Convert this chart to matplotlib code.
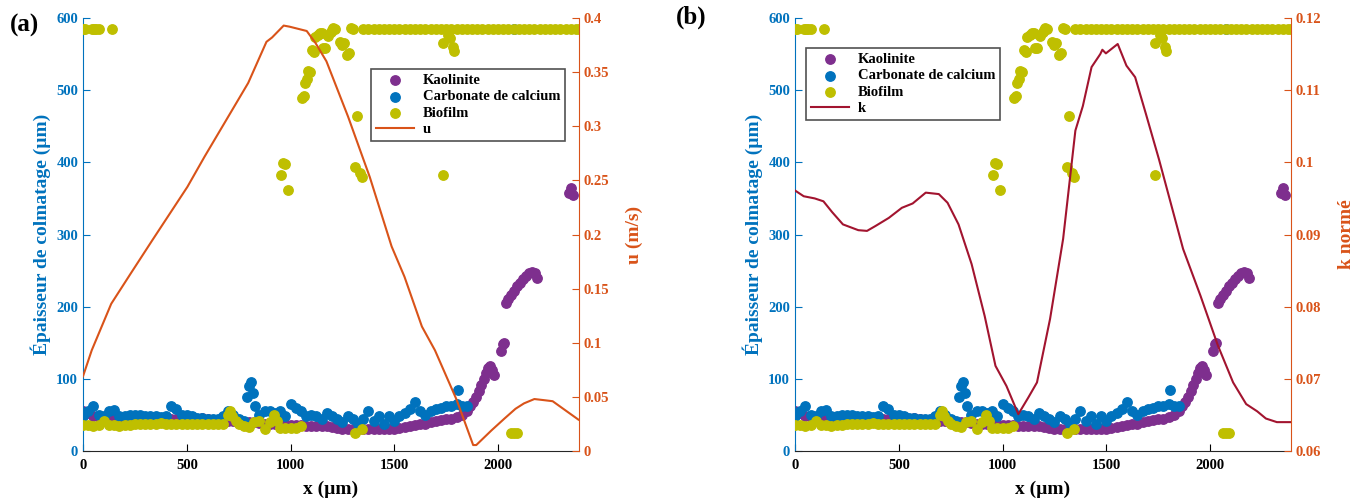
import numpy as np
import matplotlib
matplotlib.use('Agg')
import matplotlib.pyplot as plt

plt.rcParams['font.family'] = ['Liberation Serif', 'DejaVu Serif']
plt.rcParams['font.weight'] = 'bold'

# --- data (x in µm, thickness in µm) ---
kao_x = [0, 25, 50, 75, 100, 125, 150, 175, 200, 225, 250, 275, 300, 325, 350, 375,
         400, 425, 450, 475, 500, 525, 550, 575, 600, 625, 650, 675, 700, 725, 750, 775,
         800, 825, 850, 875, 900, 925, 950, 975, 1000, 1025, 1050, 1075, 1100, 1125, 1150,
         1175, 1200, 1225, 1250, 1275, 1300, 1325, 1350, 1375, 1400, 1425, 1450, 1475,
         1500, 1525, 1550, 1575, 1600, 1625, 1650, 1675, 1700, 1725, 1750, 1775, 1800,
         1825, 1850, 1865, 1880, 1895, 1910, 1920, 1930, 1940, 1950, 1960, 1970, 1980,
         2015, 2025, 2030, 2040, 2050, 2060, 2075, 2090, 2105, 2120, 2135, 2150, 2165,
         2180, 2190, 2340, 2350, 2360]
kao_y = [55, 52, 48, 47, 47, 46, 46, 46, 46, 46, 46, 46, 46, 46, 46, 46,
         45, 45, 45, 45, 44, 44, 44, 46, 44, 43, 43, 42, 42, 42, 41, 40,
         40, 40, 39, 38, 38, 38, 37, 37, 36, 36, 36, 35, 35, 35, 34,
         34, 33, 32, 31, 30, 30, 30, 30, 30, 30, 30, 30, 30,
         31, 32, 33, 35, 36, 37, 38, 40, 42, 43, 44, 45, 47,
         50, 55, 62, 68, 75, 83, 92, 100, 108, 115, 118, 112, 105,
         138, 148, 150, 205, 210, 216, 222, 228, 233, 238, 243, 247, 248,
         246, 240, 358, 365, 355]

caco_x = [0, 25, 50, 75, 100, 125, 150, 175, 200, 225, 250, 275, 300, 325, 350, 375,
          400, 425, 450, 475, 500, 525, 550, 575, 600, 625, 650, 675, 700, 725, 750, 775,
          790, 800, 810, 820, 830, 850, 875, 900, 925, 950, 975, 1000, 1025, 1050, 1075,
          1100, 1125, 1150, 1175, 1200, 1225, 1250, 1275, 1300, 1325, 1350, 1375, 1400,
          1425, 1450, 1475, 1500, 1525, 1550, 1575, 1600, 1625, 1650, 1675, 1700, 1725,
          1750, 1775, 1800, 1805, 1825, 1850, 2075]
caco_y = [48, 55, 62, 50, 48, 56, 57, 48, 48, 50, 50, 50, 48, 48, 49, 47,
          48, 63, 58, 50, 50, 48, 46, 46, 45, 45, 45, 48, 55, 50, 45, 42,
          75, 90, 95, 80, 62, 50, 55, 55, 52, 55, 48, 65, 60, 55, 48,
          50, 48, 45, 52, 48, 45, 40, 48, 45, 38, 45, 56, 42,
          48, 38, 48, 42, 48, 52, 58, 68, 55, 50, 55, 58, 60,
          62, 62, 65, 85, 63, 63, 585]

bio_x = [0, 25, 50, 75, 100, 125, 150, 175, 200, 225, 250, 275, 300, 325, 350, 375,
         400, 425, 450, 475, 500, 525, 550, 575, 600, 625, 650, 675, 700, 710, 720, 735,
         750, 775, 800, 825, 850, 875, 900, 920, 935, 950, 975, 1000, 1025, 1050,
         1310, 1345, 2060, 2075, 2090,
         0, 10, 45, 55, 65, 75, 140,
         956, 965, 975, 990, 1057, 1065, 1071, 1080, 1086, 1092, 1105, 1112, 1120, 1130,
         1144, 1153, 1158, 1168, 1180, 1195, 1202, 1207, 1215, 1240, 1250, 1260, 1274,
         1280, 1289, 1300, 1313, 1322, 1337, 1342, 1733, 1737, 1757, 1766, 1781, 1786]
bio_y = [36, 36, 35, 36, 42, 36, 36, 35, 36, 36, 37, 37, 38, 38, 38, 39,
         38, 37, 37, 38, 38, 37, 37, 37, 37, 37, 37, 37, 50, 55, 48, 42,
         38, 35, 33, 40, 42, 30, 40, 50, 42, 32, 32, 32, 32, 34,
         25, 30, 25, 25, 25,
         585, 585, 585, 585, 585, 585, 585,
         382, 399, 398, 362, 489, 492, 510, 515, 527, 525, 556, 553, 574, 576,
         579, 579, 558, 558, 575, 580, 583, 586, 585, 567, 563, 565, 549,
         552, 586, 585, 394, 464, 385, 380, 383, 565, 577, 572, 560, 554]
# continuous band at the top
bio_top_x = [1350, 1375, 1400, 1425, 1450, 1475, 1500, 1525, 1550, 1575, 1600, 1625,
             1650, 1675, 1700, 1725, 1750, 1775, 1800, 1825, 1850, 1875, 1900, 1925,
             1950, 1975, 2000, 2025, 2050, 2075, 2100, 2125, 2150, 2175, 2200, 2225,
             2250, 2275, 2300, 2325, 2350, 2375, 2390]
bio_top_y = [585] * len(bio_top_x)

u_x = [0, 42, 136, 230, 335, 503, 586, 691, 796, 884, 911, 967, 995, 1078, 1120,
       1173, 1277, 1382, 1487, 1549, 1633, 1696, 1801, 1880, 1895, 1968, 2031, 2084,
       2125, 2175, 2220, 2263, 2387]
u_y = [0.069, 0.093, 0.136, 0.164, 0.195, 0.244, 0.272, 0.306, 0.340, 0.378, 0.382,
       0.393, 0.392, 0.388, 0.377, 0.360, 0.309, 0.253, 0.189, 0.161, 0.115, 0.093,
       0.047, 0.0055, 0.0055, 0.019, 0.030, 0.039, 0.044, 0.048, 0.047, 0.046, 0.029]

k_x = [0, 42, 95, 137, 179, 231, 305, 347, 389, 452, 515, 567, 630, 693, 735, 788,
       851, 914, 966, 1019, 1076, 1124, 1166, 1229, 1292, 1351, 1387, 1429, 1471, 1481,
       1498, 1555, 1597, 1639, 1691, 1754, 1870, 1954, 2038, 2111, 2174, 2227, 2269,
       2322, 2385]
k_y = [0.0961, 0.0953, 0.0950, 0.0946, 0.0931, 0.0914, 0.0906, 0.0905, 0.0912, 0.0923,
       0.0937, 0.0943, 0.0958, 0.0956, 0.0944, 0.0914, 0.0859, 0.0787, 0.0718, 0.0690,
       0.0651, 0.0674, 0.0695, 0.0783, 0.0894, 0.1044, 0.1078, 0.1132, 0.1150, 0.1156,
       0.1151, 0.1164, 0.1134, 0.1118, 0.1067, 0.1004, 0.0880, 0.0815, 0.0746, 0.0695,
       0.0665, 0.0655, 0.0645, 0.0640, 0.0640]

C_KAO = '#7E2F8E'
C_CACO = '#0072BD'
C_BIO = '#BFBF00'
C_U = '#D95319'
C_K = '#A2142F'

fig = plt.figure(figsize=(13.62, 5.03), dpi=100)
W, H = 1362, 503


def make_panel(left_px, line_x, line_y, line_color, line_label, ylim2, ticks2,
               ticklabels2, ylabel2, leg_box):
    ax = fig.add_axes([left_px / W, 1 - 451 / H, 496 / W, 433 / H])
    ax.scatter(kao_x, kao_y, s=46, color=C_KAO, label='Kaolinite', zorder=2)
    ax.scatter(caco_x, caco_y, s=46, color=C_CACO, label='Carbonate de calcium', zorder=3)
    ax.scatter(bio_x, bio_y, s=46, color=C_BIO, label='Biofilm', zorder=4)
    ax.scatter(bio_top_x, bio_top_y, s=46, color=C_BIO, zorder=4)
    ax.set_xlim(0, 2390)
    ax.set_ylim(0, 600)
    ax.set_xticks([0, 500, 1000, 1500, 2000])
    ax.set_yticks([0, 100, 200, 300, 400, 500, 600])
    ax.set_xlabel('x (µm)', fontsize=14, fontweight='bold', labelpad=6)
    ax.set_ylabel('Épaisseur de colmatage (µm)', fontsize=14, fontweight='bold',
                  color=C_CACO, labelpad=4)
    ax.tick_params(axis='x', direction='in', length=5, labelsize=10.5, colors='black', pad=6)
    ax.tick_params(axis='y', direction='in', length=5, labelsize=10.5, colors=C_CACO)
    ax.spines['top'].set_visible(False)
    ax.spines['right'].set_visible(False)
    ax.spines['left'].set_color(C_CACO)
    ax.spines['bottom'].set_color('#262626')
    for lab in ax.get_xticklabels() + ax.get_yticklabels():
        lab.set_fontweight('bold')

    ax2 = ax.twinx()
    ax2.plot(line_x, line_y, color=line_color, lw=1.5, label=line_label)
    ax2.set_ylim(*ylim2)
    ax2.set_yticks(ticks2)
    ax2.set_yticklabels(ticklabels2)
    ax2.set_ylabel(ylabel2, fontsize=14, fontweight='bold', color=C_U, labelpad=12)
    ax2.tick_params(axis='y', direction='in', length=5, labelsize=10.5, colors=C_U)
    ax2.spines['top'].set_visible(False)
    ax2.spines['left'].set_visible(False)
    ax2.spines['bottom'].set_visible(False)
    ax2.spines['right'].set_color(C_U)
    for lab in ax2.get_yticklabels():
        lab.set_fontweight('bold')

    h1, l1 = ax.get_legend_handles_labels()
    h2, l2 = ax2.get_legend_handles_labels()
    leg = ax2.legend(h1 + h2, l1 + l2, loc='upper left', bbox_to_anchor=leg_box,
                     fontsize=10.5, frameon=True, fancybox=False, edgecolor='#262626',
                     borderpad=0.35, labelspacing=0.2, handlelength=2.6,
                     handletextpad=0.6, borderaxespad=0)
    leg.get_frame().set_linewidth(1.2)
    for t in leg.get_texts():
        t.set_fontweight('bold')
    return ax, ax2


make_panel(83, u_x, u_y, C_U, 'u', (0, 0.4),
           [0, 0.05, 0.1, 0.15, 0.2, 0.25, 0.3, 0.35, 0.4],
           ['0', '0.05', '0.1', '0.15', '0.2', '0.25', '0.3', '0.35', '0.4'],
           'u (m/s)', ((371 - 83) / 496, (451 - 69) / 433))
make_panel(795, k_x, k_y, C_K, 'k', (0.06, 0.12),
           [0.06, 0.07, 0.08, 0.09, 0.1, 0.11, 0.12],
           ['0.06', '0.07', '0.08', '0.09', '0.1', '0.11', '0.12'],
           'k normé', ((806 - 795) / 496, (451 - 48) / 433))

fig.text(10 / W, 1 - 25 / H, '(a)', fontsize=18, fontweight='bold', va='center', ha='left')
fig.text(676 / W, 1 - 17 / H, '(b)', fontsize=18, fontweight='bold', va='center', ha='left')

fig.savefig('out.png', dpi=100)
